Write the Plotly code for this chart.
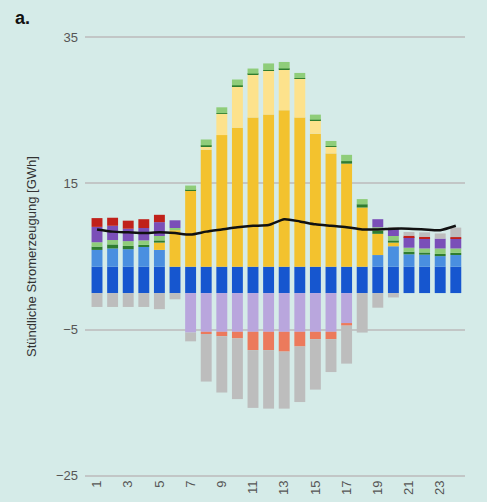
import plotly.graph_objects as go

hours = list(range(1, 25))
tick_hours = [1, 3, 5, 7, 9, 11, 13, 15, 17, 19, 21, 23]
tick_labels = [str(h) for h in tick_hours]

# positive generation series (GWh)
dark_blue = [3.6, 3.6, 3.6, 3.6, 3.6, 3.6, 3.6, 3.6, 3.6, 3.6, 3.6, 3.6,
             3.6, 3.6, 3.6, 3.6, 3.6, 3.6, 3.6, 3.6, 3.6, 3.6, 3.6, 3.6]
light_blue = [2.3, 2.5, 2.4, 2.7, 2.3, 0, 0, 0, 0, 0, 0, 0,
              0, 0, 0, 0, 0, 0, 1.6, 2.8, 1.7, 1.65, 1.45, 1.6]
solar = [0, 0, 0, 0, 1.0, 5.0, 10.4, 16.0, 18.0, 19.0, 20.4, 20.8,
         21.4, 20.4, 18.2, 15.5, 14.1, 8.1, 2.9, 0.5, 0, 0, 0, 0]
solar_light = [0, 0, 0, 0, 0, 0, 0, 0.5, 2.9, 5.7, 5.9, 6.0,
               5.6, 5.3, 1.8, 0.9, 0, 0, 0, 0, 0, 0, 0, 0]
dark_green = [0.45, 0.55, 0.45, 0.3, 0.3, 0, 0.1, 0.1, 0.1, 0.1, 0.1, 0.1,
              0.1, 0.1, 0.1, 0.1, 0.35, 0.45, 0.4, 0.3, 0.35, 0.3, 0.3, 0.3]
light_green = [0.6, 0.6, 0.65, 0.6, 0.6, 0.3, 0.6, 0.8, 0.8, 0.8, 0.7, 0.9,
               0.9, 0.7, 0.7, 0.7, 0.85, 0.7, 0.5, 0.6, 0.55, 0.55, 0.75, 0.6]
purple = [2.1, 1.95, 1.7, 1.7, 1.9, 1.05, 0, 0, 0, 0, 0, 0,
          0, 0, 0, 0, 0, 0, 1.1, 1.0, 1.45, 1.4, 1.35, 1.35]
red = [1.2, 1.1, 1.1, 1.2, 1.0, 0, 0, 0, 0, 0, 0, 0,
       0, 0, 0, 0, 0, 0, 0, 0, 0.2, 0.2, 0, 0.2]
gray_import = [0, 0, 0, 0, 0, 0, 0, 0, 0, 0, 0, 0,
               0, 0, 0, 0, 0, 0, 0, 0.15, 0.5, 0.6, 0.7, 1.3]

# negative series (GWh)
lavender = [0, 0, 0, 0, 0, 0, -5.4, -5.3, -5.3, -5.3, -5.3, -5.3,
            -5.3, -5.3, -5.3, -5.3, -4.1, 0, 0, 0, 0, 0, 0, 0]
salmon = [0, 0, 0, 0, 0, 0, 0, -0.3, -0.6, -0.9, -2.5, -2.5,
          -2.7, -2.0, -1.0, -1.0, -0.35, 0, 0, 0, 0, 0, 0, 0]
gray_export = [-1.9, -1.9, -1.9, -1.9, -2.2, -0.85, -1.2, -6.5, -7.7, -8.3, -7.9, -8.0,
               -7.8, -7.6, -6.9, -4.5, -5.2, -5.4, -2.0, -0.6, 0, 0, 0, 0]

# demand line (GWh)
demand = [8.7, 8.4, 8.3, 8.2, 8.3, 8.2, 8.0, 8.4, 8.7, 9.0, 9.2, 9.3,
          10.1, 9.8, 9.4, 9.2, 9.0, 8.7, 8.7, 8.8, 8.8, 8.7, 8.6, 9.2]

series = [
    (dark_blue, "#1656cf"),
    (light_blue, "#4a8fe0"),
    (solar, "#f3c22e"),
    (solar_light, "#fde28c"),
    (dark_green, "#2f7d2f"),
    (light_green, "#8fcd7a"),
    (purple, "#7a4fb8"),
    (red, "#c0211a"),
    (gray_import, "#bdbdbd"),
    (lavender, "#b9a6dd"),
    (salmon, "#ec7a5c"),
    (gray_export, "#bdbdbd"),
]

BG = "#d5ebe8"
FONT = "Liberation Sans, Arial, sans-serif"

fig = go.Figure()
for vals, col in series:
    fig.add_trace(go.Bar(x=hours, y=vals, marker=dict(color=col, line=dict(width=0)),
                         showlegend=False, hoverinfo="y"))

fig.add_trace(go.Scatter(x=hours, y=demand, mode="lines",
                         line=dict(color="#111111", width=2.5, shape="spline", smoothing=0.6),
                         showlegend=False))

fig.update_layout(
    width=487, height=502,
    margin=dict(l=85, r=22, t=36, b=25),
    paper_bgcolor=BG, plot_bgcolor=BG,
    barmode="relative", bargap=0.3,
    font=dict(family=FONT, color="#555555"),
    xaxis=dict(range=[0.23, 24.59], tickmode="array", tickvals=tick_hours, ticktext=tick_labels,
               tickangle=-90, showgrid=False, zeroline=False, showline=False, automargin=False,
               tickfont=dict(size=13, color="#555555")),
    yaxis=dict(range=[-25.15, 35.15], tickmode="array", tickvals=[-25, -5, 15, 35],
               showgrid=True, gridcolor="#c2c6c6", gridwidth=1.5, zeroline=False,
               showline=False, ticklabelstandoff=6, automargin=False,
               tickfont=dict(size=13, color="#555555"),
               title=dict(text="Stündliche Stromerzeugung [GWh]",
                          font=dict(size=13, color="#333333"), standoff=16)),
    annotations=[dict(text="<b>a.</b>", xref="paper", yref="paper",
                      x=-0.19, y=1.041, xanchor="left", yanchor="middle",
                      showarrow=False, font=dict(size=18, color="#111111", family=FONT))],
)

fig.write_html("out.html",
               config={"displayModeBar": False},
               post_script="document.body.style.margin='0';"
                           "document.body.style.background='" + BG + "';")
